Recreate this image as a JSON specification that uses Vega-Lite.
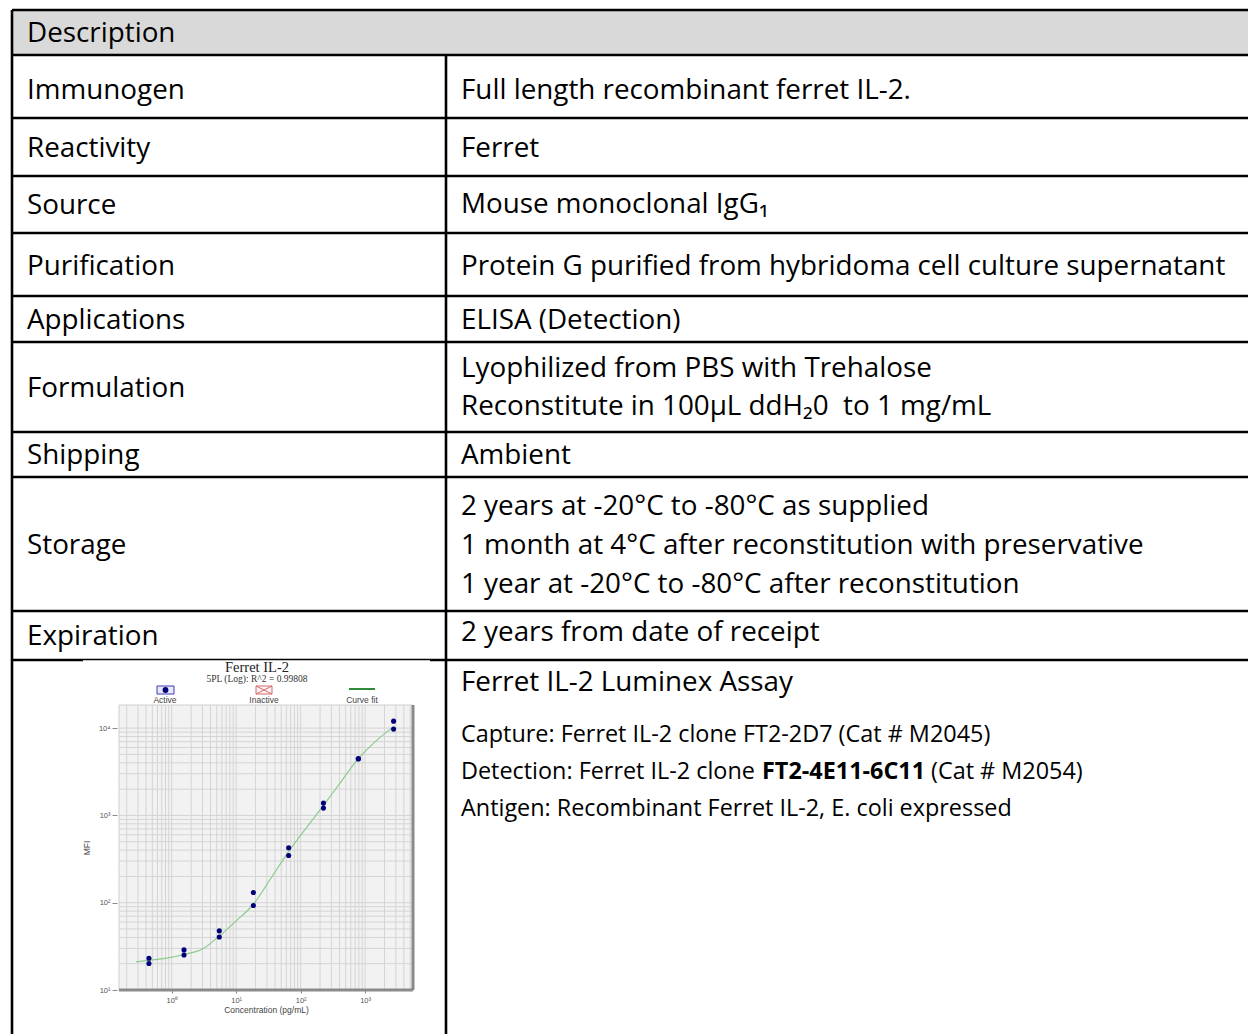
{
  "$schema": "https://vega.github.io/schema/vega-lite/v6.json",
  "width": 1248,
  "height": 1034,
  "autosize": {"type": "none"},
  "padding": 0,
  "background": "#ffffff",
  "config": {"view": {"stroke": null}},
  "datasets": {
    "header": [{"left": 12, "right": 1248, "top": 10, "bottom": 55}],
    "hlines": [
      {"y": 10, "left": 12, "right": 1248},
      {"y": 55, "left": 12, "right": 1248},
      {"y": 118, "left": 12, "right": 1248},
      {"y": 176, "left": 12, "right": 1248},
      {"y": 233, "left": 12, "right": 1248},
      {"y": 296, "left": 12, "right": 1248},
      {"y": 342, "left": 12, "right": 1248},
      {"y": 432, "left": 12, "right": 1248},
      {"y": 477, "left": 12, "right": 1248},
      {"y": 611, "left": 12, "right": 1248},
      {"y": 660, "left": 12, "right": 1248}
    ],
    "vlines": [
      {"x": 12, "top": 10, "bottom": 1034},
      {"x": 446, "top": 55, "bottom": 1034}
    ],
    "figEdge": [{"left": 83, "right": 430, "top": 660.2, "bottom": 662}],
    "cells": [
      {"text": "Description", "x": 27, "y": 42},
      {"text": "Immunogen", "x": 27, "y": 99},
      {"text": "Reactivity", "x": 27, "y": 157},
      {"text": "Source", "x": 27, "y": 214},
      {"text": "Purification", "x": 27, "y": 275},
      {"text": "Applications", "x": 27, "y": 329},
      {"text": "Formulation", "x": 27, "y": 397},
      {"text": "Shipping", "x": 27, "y": 464},
      {"text": "Storage", "x": 27, "y": 554},
      {"text": "Expiration", "x": 27, "y": 645},
      {"text": "Full length recombinant ferret IL-2.", "x": 461, "y": 99},
      {"text": "Ferret", "x": 461, "y": 157},
      {"text": "Mouse monoclonal IgG₁", "x": 461, "y": 213},
      {"text": "Protein G purified from hybridoma cell culture supernatant", "x": 461, "y": 275},
      {"text": "ELISA (Detection)", "x": 461, "y": 329},
      {"text": "Lyophilized from PBS with Trehalose", "x": 461, "y": 377},
      {"text": "Reconstitute in 100µL ddH₂0\u00a0 to 1 mg/mL", "x": 461, "y": 415},
      {"text": "Ambient", "x": 461, "y": 464},
      {"text": "2 years at -20°C to -80°C as supplied", "x": 461, "y": 515},
      {"text": "1 month at 4°C after reconstitution with preservative", "x": 461, "y": 554},
      {"text": "1 year at -20°C to -80°C after reconstitution", "x": 461, "y": 593},
      {"text": "2 years from date of receipt", "x": 461, "y": 641},
      {"text": "Ferret IL-2 Luminex Assay", "x": 461, "y": 691}
    ],
    "notes": [
      {"text": "Capture: Ferret IL-2 clone FT2-2D7 (Cat # M2045)", "x": 461, "y": 742},
      {"text": "Detection: Ferret IL-2 clone", "x": 461, "y": 779},
      {"text": "(Cat # M2054)", "x": 931, "y": 779},
      {"text": "Antigen: Recombinant Ferret IL-2, E. coli expressed", "x": 461, "y": 816}
    ],
    "notesBold": [
      {"text": "FT2-4E11-6C11", "x": 762, "y": 779}
    ],
    "figTitle": [{"text": "Ferret IL-2", "x": 257, "y": 672}],
    "figSub": [{"text": "5PL (Log): R^2 = 0.99808", "x": 257, "y": 682}],
    "legendText": [
      {"text": "Active", "x": 165, "y": 703},
      {"text": "Inactive", "x": 264, "y": 703},
      {"text": "Curve fit", "x": 362, "y": 703}
    ],
    "legendActiveBox": [{"left": 157, "right": 174, "top": 686, "bottom": 694}],
    "legendActiveDot": [{"x": 165.5, "y": 690}],
    "legendInactiveBox": [{"left": 256, "right": 272, "top": 686, "bottom": 694}],
    "legendInactiveX": [
      {"x0": 256, "y0": 686, "x1": 272, "y1": 694},
      {"x0": 256, "y0": 694, "x1": 272, "y1": 686}
    ],
    "legendFit": [{"x0": 349, "x1": 375, "y": 689}],
    "plotbox": [{"xlo": 0.152, "xhi": 5540, "ylo": 10, "yhi": 18400}],
    "gridx": [
      {"v": 0.2}, {"v": 0.3}, {"v": 0.4}, {"v": 0.5}, {"v": 0.6}, {"v": 0.7}, {"v": 0.8}, {"v": 0.9},
      {"v": 1}, {"v": 2}, {"v": 3}, {"v": 4}, {"v": 5}, {"v": 6}, {"v": 7}, {"v": 8}, {"v": 9},
      {"v": 10}, {"v": 20}, {"v": 30}, {"v": 40}, {"v": 50}, {"v": 60}, {"v": 70}, {"v": 80}, {"v": 90},
      {"v": 100}, {"v": 200}, {"v": 300}, {"v": 400}, {"v": 500}, {"v": 600}, {"v": 700}, {"v": 800}, {"v": 900},
      {"v": 1000}, {"v": 2000}, {"v": 3000}, {"v": 4000}, {"v": 5000}
    ],
    "gridy": [
      {"v": 20}, {"v": 30}, {"v": 40}, {"v": 50}, {"v": 60}, {"v": 70}, {"v": 80}, {"v": 90},
      {"v": 100}, {"v": 200}, {"v": 300}, {"v": 400}, {"v": 500}, {"v": 600}, {"v": 700}, {"v": 800}, {"v": 900},
      {"v": 1000}, {"v": 2000}, {"v": 3000}, {"v": 4000}, {"v": 5000}, {"v": 6000}, {"v": 7000}, {"v": 8000}, {"v": 9000},
      {"v": 10000}
    ],
    "fit": [
      {"c": 0.279, "m": 21.0}, {"c": 0.44, "m": 21.9}, {"c": 0.8, "m": 23.0}, {"c": 1.55, "m": 25.5},
      {"c": 3, "m": 29.5}, {"c": 5.47, "m": 41.5}, {"c": 10, "m": 62}, {"c": 18.5, "m": 96},
      {"c": 35, "m": 193}, {"c": 65, "m": 385}, {"c": 120, "m": 706}, {"c": 226, "m": 1300},
      {"c": 420, "m": 2410}, {"c": 786, "m": 4480}, {"c": 1500, "m": 7200}, {"c": 2770, "m": 10400}
    ],
    "standards": [
      {"c": 0.443, "m": 23.1}, {"c": 0.443, "m": 20.1},
      {"c": 1.55, "m": 28.8}, {"c": 1.55, "m": 25.2},
      {"c": 5.47, "m": 47.6}, {"c": 5.47, "m": 40.4},
      {"c": 18.5, "m": 131}, {"c": 18.5, "m": 93},
      {"c": 65.2, "m": 426}, {"c": 65.2, "m": 347},
      {"c": 226, "m": 1384}, {"c": 226, "m": 1213},
      {"c": 786, "m": 4488}, {"c": 786, "m": 4420},
      {"c": 2770, "m": 12020}, {"c": 2770, "m": 9750}
    ]
  },
  "layer": [
    {
      "layer": [
        {
          "data": {"name": "header"},
          "mark": {"type": "rect", "fill": "#d9d9d9"},
          "encoding": {
            "x": {"field": "left", "type": "quantitative", "axis": null, "scale": {"type": "linear", "domain": [0, 1248], "range": [0, 1248], "zero": false, "nice": false}},
            "x2": {"field": "right"},
            "y": {"field": "top", "type": "quantitative", "axis": null, "scale": {"type": "linear", "domain": [0, 1034], "range": [0, 1034], "zero": false, "nice": false}},
            "y2": {"field": "bottom"}
          }
        },
        {
          "data": {"name": "hlines"},
          "mark": {"type": "rule", "stroke": "#000000", "strokeWidth": 2.6},
          "encoding": {
            "x": {"field": "left", "type": "quantitative", "axis": null, "scale": {"type": "linear", "domain": [0, 1248], "range": [0, 1248], "zero": false, "nice": false}},
            "x2": {"field": "right"},
            "y": {"field": "y", "type": "quantitative", "axis": null, "scale": {"type": "linear", "domain": [0, 1034], "range": [0, 1034], "zero": false, "nice": false}}
          }
        },
        {
          "data": {"name": "vlines"},
          "mark": {"type": "rule", "stroke": "#000000", "strokeWidth": 2.6},
          "encoding": {
            "x": {"field": "x", "type": "quantitative", "axis": null, "scale": {"type": "linear", "domain": [0, 1248], "range": [0, 1248], "zero": false, "nice": false}},
            "y": {"field": "top", "type": "quantitative", "axis": null, "scale": {"type": "linear", "domain": [0, 1034], "range": [0, 1034], "zero": false, "nice": false}},
            "y2": {"field": "bottom"}
          }
        },
        {
          "data": {"name": "figEdge"},
          "mark": {"type": "rect", "fill": "#ffffff"},
          "encoding": {
            "x": {"field": "left", "type": "quantitative", "axis": null, "scale": {"type": "linear", "domain": [0, 1248], "range": [0, 1248], "zero": false, "nice": false}},
            "x2": {"field": "right"},
            "y": {"field": "top", "type": "quantitative", "axis": null, "scale": {"type": "linear", "domain": [0, 1034], "range": [0, 1034], "zero": false, "nice": false}},
            "y2": {"field": "bottom"}
          }
        },
        {
          "data": {"name": "cells"},
          "mark": {"type": "text", "font": "Open Sans", "fontSize": 27.8, "fill": "#000000", "align": "left", "baseline": "alphabetic"},
          "encoding": {
            "x": {"field": "x", "type": "quantitative", "axis": null, "scale": {"type": "linear", "domain": [0, 1248], "range": [0, 1248], "zero": false, "nice": false}},
            "y": {"field": "y", "type": "quantitative", "axis": null, "scale": {"type": "linear", "domain": [0, 1034], "range": [0, 1034], "zero": false, "nice": false}},
            "text": {"field": "text"}
          }
        },
        {
          "data": {"name": "notes"},
          "mark": {"type": "text", "font": "Open Sans", "fontSize": 23.4, "fill": "#000000", "align": "left", "baseline": "alphabetic"},
          "encoding": {
            "x": {"field": "x", "type": "quantitative", "axis": null, "scale": {"type": "linear", "domain": [0, 1248], "range": [0, 1248], "zero": false, "nice": false}},
            "y": {"field": "y", "type": "quantitative", "axis": null, "scale": {"type": "linear", "domain": [0, 1034], "range": [0, 1034], "zero": false, "nice": false}},
            "text": {"field": "text"}
          }
        },
        {
          "data": {"name": "notesBold"},
          "mark": {"type": "text", "font": "Open Sans", "fontSize": 23.4, "fontWeight": "bold", "fill": "#000000", "align": "left", "baseline": "alphabetic"},
          "encoding": {
            "x": {"field": "x", "type": "quantitative", "axis": null, "scale": {"type": "linear", "domain": [0, 1248], "range": [0, 1248], "zero": false, "nice": false}},
            "y": {"field": "y", "type": "quantitative", "axis": null, "scale": {"type": "linear", "domain": [0, 1034], "range": [0, 1034], "zero": false, "nice": false}},
            "text": {"field": "text"}
          }
        },
        {
          "data": {"name": "figTitle"},
          "mark": {"type": "text", "font": "Liberation Serif", "fontSize": 14.5, "fill": "#222222", "align": "center", "baseline": "alphabetic"},
          "encoding": {
            "x": {"field": "x", "type": "quantitative", "axis": null, "scale": {"type": "linear", "domain": [0, 1248], "range": [0, 1248], "zero": false, "nice": false}},
            "y": {"field": "y", "type": "quantitative", "axis": null, "scale": {"type": "linear", "domain": [0, 1034], "range": [0, 1034], "zero": false, "nice": false}},
            "text": {"field": "text"}
          }
        },
        {
          "data": {"name": "figSub"},
          "mark": {"type": "text", "font": "Liberation Serif", "fontSize": 9.5, "fill": "#333333", "align": "center", "baseline": "alphabetic"},
          "encoding": {
            "x": {"field": "x", "type": "quantitative", "axis": null, "scale": {"type": "linear", "domain": [0, 1248], "range": [0, 1248], "zero": false, "nice": false}},
            "y": {"field": "y", "type": "quantitative", "axis": null, "scale": {"type": "linear", "domain": [0, 1034], "range": [0, 1034], "zero": false, "nice": false}},
            "text": {"field": "text"}
          }
        },
        {
          "data": {"name": "legendText"},
          "mark": {"type": "text", "font": "Liberation Sans", "fontSize": 8.5, "fill": "#444444", "align": "center", "baseline": "alphabetic"},
          "encoding": {
            "x": {"field": "x", "type": "quantitative", "axis": null, "scale": {"type": "linear", "domain": [0, 1248], "range": [0, 1248], "zero": false, "nice": false}},
            "y": {"field": "y", "type": "quantitative", "axis": null, "scale": {"type": "linear", "domain": [0, 1034], "range": [0, 1034], "zero": false, "nice": false}},
            "text": {"field": "text"}
          }
        },
        {
          "data": {"name": "legendActiveBox"},
          "mark": {"type": "rect", "fill": "#e8e8ff", "stroke": "#3b3bb0", "strokeWidth": 1},
          "encoding": {
            "x": {"field": "left", "type": "quantitative", "axis": null, "scale": {"type": "linear", "domain": [0, 1248], "range": [0, 1248], "zero": false, "nice": false}},
            "x2": {"field": "right"},
            "y": {"field": "top", "type": "quantitative", "axis": null, "scale": {"type": "linear", "domain": [0, 1034], "range": [0, 1034], "zero": false, "nice": false}},
            "y2": {"field": "bottom"}
          }
        },
        {
          "data": {"name": "legendActiveDot"},
          "mark": {"type": "point", "shape": "circle", "filled": true, "fill": "#00007a", "size": 34, "opacity": 1},
          "encoding": {
            "x": {"field": "x", "type": "quantitative", "axis": null, "scale": {"type": "linear", "domain": [0, 1248], "range": [0, 1248], "zero": false, "nice": false}},
            "y": {"field": "y", "type": "quantitative", "axis": null, "scale": {"type": "linear", "domain": [0, 1034], "range": [0, 1034], "zero": false, "nice": false}}
          }
        },
        {
          "data": {"name": "legendInactiveBox"},
          "mark": {"type": "rect", "fill": "#fff2f2", "stroke": "#d06a6a", "strokeWidth": 1},
          "encoding": {
            "x": {"field": "left", "type": "quantitative", "axis": null, "scale": {"type": "linear", "domain": [0, 1248], "range": [0, 1248], "zero": false, "nice": false}},
            "x2": {"field": "right"},
            "y": {"field": "top", "type": "quantitative", "axis": null, "scale": {"type": "linear", "domain": [0, 1034], "range": [0, 1034], "zero": false, "nice": false}},
            "y2": {"field": "bottom"}
          }
        },
        {
          "data": {"name": "legendInactiveX"},
          "mark": {"type": "rule", "stroke": "#d06a6a", "strokeWidth": 1},
          "encoding": {
            "x": {"field": "x0", "type": "quantitative", "axis": null, "scale": {"type": "linear", "domain": [0, 1248], "range": [0, 1248], "zero": false, "nice": false}},
            "x2": {"field": "x1"},
            "y": {"field": "y0", "type": "quantitative", "axis": null, "scale": {"type": "linear", "domain": [0, 1034], "range": [0, 1034], "zero": false, "nice": false}},
            "y2": {"field": "y1"}
          }
        },
        {
          "data": {"name": "legendFit"},
          "mark": {"type": "rule", "stroke": "#2e8b3a", "strokeWidth": 2},
          "encoding": {
            "x": {"field": "x0", "type": "quantitative", "axis": null, "scale": {"type": "linear", "domain": [0, 1248], "range": [0, 1248], "zero": false, "nice": false}},
            "x2": {"field": "x1"},
            "y": {"field": "y", "type": "quantitative", "axis": null, "scale": {"type": "linear", "domain": [0, 1034], "range": [0, 1034], "zero": false, "nice": false}}
          }
        }
      ]
    },
    {
      "layer": [
        {
          "data": {"name": "plotbox"},
          "mark": {"type": "rect", "fill": "#f2f2f2", "stroke": "#cfcfcf", "strokeWidth": 1},
          "encoding": {
            "x": {"field": "xlo", "type": "quantitative", "scale": {"type": "log", "domain": [0.152, 5540], "range": [119, 413], "nice": false},
              "axis": {"orient": "bottom", "offset": -44, "values": [1, 10, 100, 1000], "labelExpr": "datum.value == 1 ? '10⁰' : datum.value == 10 ? '10¹' : datum.value == 100 ? '10²' : datum.value == 1000 ? '10³' : '10⁴'", "title": "Concentration (pg/mL)", "grid": false, "domain": false, "ticks": true, "tickSize": 3, "tickColor": "#888888", "labelFont": "Liberation Sans", "labelFontSize": 7.5, "labelColor": "#555555", "labelPadding": 3, "labelFlush": false, "labelOverlap": false, "titleFont": "Liberation Sans", "titleFontSize": 8.5, "titleFontWeight": "normal", "titleColor": "#444444", "titlePadding": 2}},
            "x2": {"field": "xhi"},
            "y": {"field": "ylo", "type": "quantitative", "scale": {"type": "log", "domain": [10, 18400], "range": [990, 705], "nice": false},
              "axis": {"orient": "left", "offset": -117, "values": [10, 100, 1000, 10000], "labelExpr": "datum.value == 1 ? '10⁰' : datum.value == 10 ? '10¹' : datum.value == 100 ? '10²' : datum.value == 1000 ? '10³' : '10⁴'", "title": "MFI", "grid": false, "domain": false, "ticks": true, "tickSize": 5, "tickColor": "#888888", "labelFont": "Liberation Sans", "labelFontSize": 7.5, "labelColor": "#555555", "labelPadding": 2, "labelFlush": false, "labelOverlap": false, "titleFont": "Liberation Sans", "titleFontSize": 8.5, "titleFontWeight": "normal", "titleColor": "#444444", "titlePadding": 7}},
            "y2": {"field": "yhi"}
          }
        },
        {
          "data": {"name": "gridx"},
          "mark": {"type": "rule", "stroke": "#d4d4d4", "strokeWidth": 1},
          "encoding": {
            "x": {"field": "v", "type": "quantitative"},
            "y": {"datum": 10, "type": "quantitative"},
            "y2": {"datum": 18400}
          }
        },
        {
          "data": {"name": "gridy"},
          "mark": {"type": "rule", "stroke": "#d4d4d4", "strokeWidth": 1},
          "encoding": {
            "y": {"field": "v", "type": "quantitative"},
            "x": {"datum": 0.152, "type": "quantitative"},
            "x2": {"datum": 5540}
          }
        },
        {
          "data": {"name": "fit"},
          "mark": {"type": "line", "stroke": "#8ccb8c", "strokeWidth": 1.2, "interpolate": "monotone"},
          "encoding": {
            "x": {"field": "c", "type": "quantitative"},
            "y": {"field": "m", "type": "quantitative"}
          }
        },
        {
          "data": {"name": "standards"},
          "mark": {"type": "point", "shape": "circle", "filled": true, "fill": "#00007a", "size": 26, "opacity": 1},
          "encoding": {
            "x": {"field": "c", "type": "quantitative"},
            "y": {"field": "m", "type": "quantitative"}
          }
        },
        {
          "data": {"name": "plotbox"},
          "mark": {"type": "rule", "stroke": "#8a8a8a", "strokeWidth": 3},
          "encoding": {
            "x": {"field": "xlo", "type": "quantitative"},
            "x2": {"field": "xhi"},
            "y": {"field": "ylo", "type": "quantitative"}
          }
        },
        {
          "data": {"name": "plotbox"},
          "mark": {"type": "rule", "stroke": "#8a8a8a", "strokeWidth": 3},
          "encoding": {
            "x": {"field": "xhi", "type": "quantitative"},
            "y": {"field": "ylo", "type": "quantitative"},
            "y2": {"field": "yhi"}
          }
        }
      ]
    }
  ],
  "resolve": {"scale": {"x": "independent", "y": "independent"}, "axis": {"x": "independent", "y": "independent"}}
}
